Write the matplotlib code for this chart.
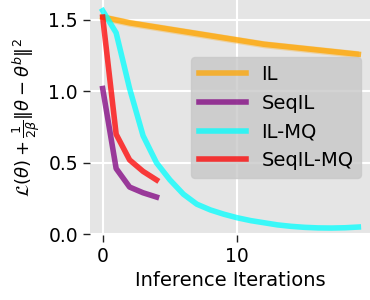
import numpy as np
import matplotlib

matplotlib.use("Agg")
import matplotlib.pyplot as plt

# values
iters_long = np.arange(20)
iters_short = np.arange(5)
il = [1.52, 1.50, 1.48, 1.465, 1.45, 1.435, 1.42, 1.405, 1.39, 1.375,
      1.36, 1.345, 1.33, 1.32, 1.31, 1.30, 1.29, 1.28, 1.27, 1.26]
il_std = [0.025] * 20
il_mq = [1.565, 1.41, 1.02, 0.69, 0.50, 0.38, 0.28, 0.21, 0.17, 0.14,
         0.115, 0.095, 0.08, 0.065, 0.055, 0.048, 0.044, 0.043, 0.045, 0.05]
seqil = [1.02, 0.46, 0.33, 0.29, 0.26]
seqil_mq = [1.52, 0.70, 0.52, 0.44, 0.38]

fig = plt.figure(figsize=(3.7, 3.0), dpi=100)
ax = fig.add_axes([0.243, 0.217, 0.76, 0.783])
ax.set_facecolor("#e5e5e5")
for s in ax.spines.values():
    s.set_visible(False)
ax.grid(True, color="white", linewidth=1.5)
ax.set_axisbelow(True)

lw = 4
il_lo = np.array(il) - np.array(il_std)
il_hi = np.array(il) + np.array(il_std)
ax.fill_between(iters_long, il_lo, il_hi, color="orange", alpha=0.3, lw=0)
ax.plot(iters_long, il, color="orange", alpha=0.75, lw=lw, label="IL")
ax.plot(iters_short, seqil, color="purple", alpha=0.75, lw=lw, label="SeqIL")
ax.plot(iters_long, il_mq, color="cyan", alpha=0.75, lw=lw, label="IL-MQ")
ax.plot(iters_short, seqil_mq, color="red", alpha=0.75, lw=lw, label="SeqIL-MQ")

ax.set_xlim(-0.95, 19.95)
ax.set_ylim(-0.005, 1.64)
ax.set_xticks([0, 10])
ax.set_yticks([0.0, 0.5, 1.0, 1.5])
ax.tick_params(labelsize=13.5, length=5, width=1, color="#222222")

ax.set_xlabel("Inference Iterations", fontsize=14)
ax.set_ylabel(r"$\mathcal{L}(\theta) + \frac{1}{2\beta}\|\theta - \theta^b\|^2$",
              fontsize=13)

leg = ax.legend(loc="center right", fontsize=14, handlelength=2.4,
                facecolor="#c8c8c8", edgecolor="#c8c8c8", framealpha=0.8)

fig.savefig("out.png", dpi=100)
